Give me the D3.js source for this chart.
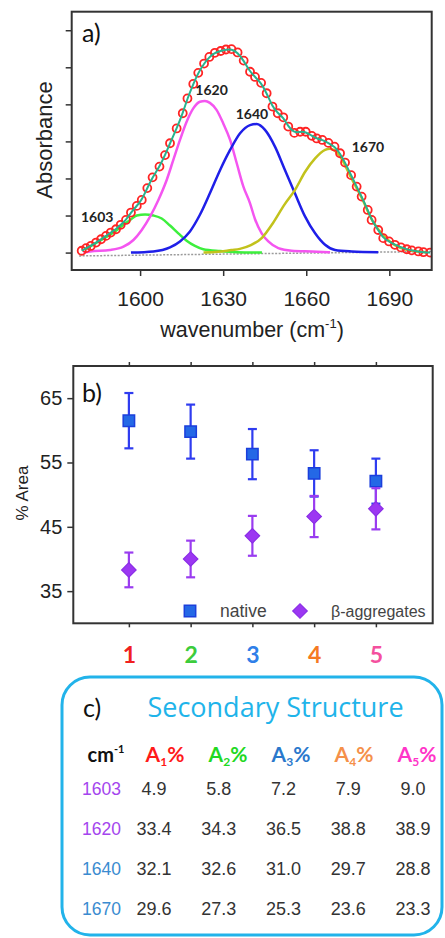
<!DOCTYPE html>
<html>
<head>
<meta charset="utf-8">
<script src="https://cdn.jsdelivr.net/npm/d3@7"></script>
<style>
  body { margin: 0; background: #fff; }
  svg { display: block; }
  text { font-family: "Liberation Sans", Arial, sans-serif; }
</style>
</head>
<body>
<div id="chart-container"></div>
<script>
// ---- panel a: measured spectrum (red circles) ----
const specWn = [1578.9, 1580.5, 1582.2, 1584.1, 1585.9, 1587.7, 1589.4, 1591.3, 1593.0, 1594.9,
  1596.7, 1598.8, 1600.6, 1602.6, 1604.5, 1607.0, 1609.0, 1610.8, 1613.2, 1615.4,
  1617.1, 1619.2, 1621.0, 1623.1, 1625.0, 1627.0, 1629.1, 1631.0, 1633.0, 1635.2,
  1637.4, 1639.7, 1641.5, 1643.7, 1645.7, 1647.8, 1649.7, 1651.7, 1653.5, 1655.7,
  1657.8, 1659.8, 1662.0, 1663.8, 1665.8, 1668.0, 1670.2, 1672.2, 1674.0, 1676.2,
  1678.2, 1680.0, 1682.2, 1683.6, 1686.0, 1687.8, 1689.9, 1692.0, 1694.2, 1696.3,
  1698.1, 1700.5, 1702.3, 1704.7];
const specAbs = [0.005, 0.012, 0.018, 0.027, 0.036, 0.045, 0.054, 0.063, 0.075, 0.088,
  0.108, 0.126, 0.142, 0.174, 0.203, 0.232, 0.263, 0.295, 0.335, 0.376,
  0.416, 0.455, 0.485, 0.510, 0.528, 0.539, 0.544, 0.548, 0.549, 0.540,
  0.518, 0.488, 0.474, 0.458, 0.430, 0.394, 0.376, 0.365, 0.340, 0.323,
  0.326, 0.326, 0.315, 0.308, 0.304, 0.296, 0.286, 0.268, 0.243, 0.209,
  0.178, 0.151, 0.115, 0.088, 0.061, 0.039, 0.030, 0.021, 0.014, 0.009,
  0.006, 0.003, 0.001, 0.000];

// fitted bands
const band1603Wn = [1580, 1585, 1590, 1594, 1596.4, 1598.8, 1601.8, 1604.8, 1607.8, 1610.8, 1613.8, 1616.8, 1619.8, 1622.8, 1628.9, 1634.9, 1644];
const band1603Abs = [0.008, 0.030, 0.052, 0.075, 0.088, 0.100, 0.103, 0.100, 0.092, 0.073, 0.052, 0.032, 0.018, 0.009, 0.004, 0.001, 0];
const band1620Wn = [1579.5, 1581.9, 1589.1, 1594, 1597.6, 1600.6, 1603.6, 1606.6, 1609.6, 1612, 1614.4, 1616.8, 1619.2, 1621.6, 1623.4,
  1625.2, 1627.6, 1630, 1632.5, 1634.9, 1637.3, 1639.7, 1641.5, 1643.9, 1646.3, 1649.9, 1654.7, 1662, 1668.6];
const band1620Abs = [0, 0.003, 0.007, 0.016, 0.034, 0.061, 0.097, 0.142, 0.196, 0.250, 0.304, 0.353, 0.389, 0.407, 0.409,
  0.404, 0.385, 0.349, 0.304, 0.241, 0.178, 0.133, 0.090, 0.052, 0.030, 0.012, 0.005, 0.003, 0.001];
const band1640Wn = [1596.7, 1604.8, 1610.8, 1614.4, 1618, 1621.6, 1625.2, 1628.9, 1632.5, 1636.1, 1639.7, 1642.1,
  1645.1, 1648.7, 1652.3, 1655.9, 1659.6, 1663.2, 1666.8, 1670.4, 1676.4, 1686];
const band1640Abs = [0, 0.003, 0.014, 0.030, 0.057, 0.102, 0.160, 0.223, 0.277, 0.322, 0.344, 0.347,
  0.331, 0.286, 0.223, 0.160, 0.097, 0.052, 0.021, 0.007, 0.003, 0.001];
const band1670Wn = [1622.9, 1628, 1633, 1636, 1640, 1644, 1648, 1652, 1656, 1659.6, 1663.2, 1666.8, 1668.6,
  1672, 1676, 1680, 1684, 1688, 1692, 1696, 1700, 1704];
const band1670Abs = [0, 0.002, 0.007, 0.010, 0.020, 0.040, 0.080, 0.128, 0.170, 0.218, 0.254, 0.277, 0.280,
  0.262, 0.205, 0.148, 0.085, 0.045, 0.020, 0.008, 0.003, 0.001];
const baseWn = [1578, 1705.3];
const baseAbs = [-0.009, 0.003];
const bandLabels = ["1603", "1620", "1640", "1670"];
const bandLabelAt = [[1584.5, 0.083], [1625.8, 0.425], [1640.4, 0.36], [1682.3, 0.271]];
const wnTicks = [1600, 1630, 1660, 1690];

// ---- panel b: % area per sample ----
const samples = [1, 2, 3, 4, 5];
const nativeMean = [61.5, 59.8, 56.3, 53.3, 52.1];
const nativeErr = [4.3, 4.2, 3.9, 3.6, 3.5];
const aggMean = [38.3, 40.0, 43.6, 46.6, 47.8];
const aggErr = [2.7, 2.85, 3.1, 3.2, 3.2];
const areaTicks = [35, 45, 55, 65];

// ---- panel c: secondary structure table ----
const tableRows = ["1603", "1620", "1640", "1670"];
const tableCols = ["1", "2", "3", "4", "5"];
const tableVals = [
  [4.9, 5.8, 7.2, 7.9, 9.0],
  [33.4, 34.3, 36.5, 38.8, 38.9],
  [32.1, 32.6, 31.0, 29.7, 28.8],
  [29.6, 27.3, 25.3, 23.6, 23.3]
];

const sampleColors = ["#f02020", "#3ccc3c", "#2f7fe8", "#f57a22", "#f4509e"];
const headColors = ["#ff1a1a", "#22d822", "#2a78cc", "#f5904a", "#ff35c8"];
const rowColors = ["#a445ee", "#a445ee", "#3a8bd0", "#3a8bd0"];
const bandColors = ["#3def3d", "#f455f0", "#1f1fe8", "#c2c21c"];

const svg = d3.select("#chart-container")
  .append("svg")
  .attr("width", 445)
  .attr("height", 938);

// ================= panel a =================
const xA = d3.scaleLinear().domain([1575.3, 1705.3]).range([71.7, 431.7]);
const yA = d3.scaleLinear().domain([-0.047, 0.65]).range([270, 11.7]);
const lineA = d3.line().x(d => xA(d[0])).y(d => yA(d[1]));

const gA = svg.append("g");

gA.append("clipPath").attr("id", "clip-a")
  .append("rect")
  .attr("x", 71.7).attr("y", 11.7)
  .attr("width", 360).attr("height", 258.3);

const plotA = gA.append("g").attr("clip-path", "url(#clip-a)");

plotA.append("path")
  .attr("d", lineA(d3.zip(baseWn, baseAbs)))
  .attr("fill", "none")
  .attr("stroke", "#9a9a9a")
  .attr("stroke-width", 1.5)
  .attr("stroke-dasharray", "2,1.5");

const bands = [
  d3.zip(band1603Wn, band1603Abs),
  d3.zip(band1620Wn, band1620Abs),
  d3.zip(band1640Wn, band1640Abs),
  d3.zip(band1670Wn, band1670Abs)
];
bands.forEach((b, i) => {
  plotA.append("path")
    .attr("d", lineA.curve(d3.curveMonotoneX)(b))
    .attr("fill", "none")
    .attr("stroke", bandColors[i])
    .attr("stroke-width", 2.5);
});

const spec = d3.zip(specWn, specAbs);
plotA.selectAll("circle.pt")
  .data(spec)
  .join("circle")
  .attr("class", "pt")
  .attr("cx", d => xA(d[0]))
  .attr("cy", d => yA(d[1]))
  .attr("r", 4)
  .attr("fill", "none")
  .attr("stroke", "#ff2424")
  .attr("stroke-width", 1.8);

plotA.append("path")
  .attr("d", lineA.curve(d3.curveBasis)(spec))
  .attr("fill", "none")
  .attr("stroke", "#27b38e")
  .attr("stroke-width", 2);

gA.selectAll("text.band")
  .data(bandLabels)
  .join("text")
  .attr("class", "band")
  .attr("x", (d, i) => xA(bandLabelAt[i][0]))
  .attr("y", (d, i) => yA(bandLabelAt[i][1]))
  .attr("text-anchor", "middle")
  .style("font-family", "Lato, sans-serif")
  .attr("font-weight", 700)
  .attr("font-size", 14)
  .attr("fill", "#222")
  .text(d => d);

gA.append("g")
  .attr("transform", "translate(71.7,0)")
  .call(d3.axisLeft(yA).tickValues(d3.range(0, 0.65, 0.1)).tickSize(6).tickFormat(""))
  .call(g => g.select(".domain").remove())
  .call(g => g.selectAll("line").attr("stroke", "#333").attr("stroke-width", 1.5));

gA.append("g")
  .attr("transform", "translate(0,270)")
  .call(d3.axisBottom(xA).tickValues(wnTicks).tickSize(6).tickPadding(15).tickFormat(d3.format("d")))
  .call(g => g.select(".domain").remove())
  .call(g => g.attr("font-family", null).attr("font-size", null))
  .call(g => g.selectAll("line").attr("stroke", "#333").attr("stroke-width", 1.5))
  .call(g => g.selectAll("text").attr("font-size", 21).attr("fill", "#222"));

gA.append("rect")
  .attr("x", 71.7).attr("y", 11.7)
  .attr("width", 360).attr("height", 258.3)
  .attr("fill", "none")
  .attr("stroke", "#333")
  .attr("stroke-width", 2);

gA.append("text")
  .attr("x", 82).attr("y", 42)
  .style("font-family", "Lato, sans-serif")
  .attr("font-size", 25)
  .attr("fill", "#111")
  .text("a)");

gA.append("text")
  .attr("transform", "translate(52,140) rotate(-90)")
  .attr("text-anchor", "middle")
  .attr("font-size", 22)
  .attr("fill", "#222")
  .text("Absorbance");

const wnTitle = gA.append("text")
  .attr("x", 252).attr("y", 336.5)
  .attr("text-anchor", "middle")
  .attr("font-size", 21.5)
  .attr("fill", "#222");
wnTitle.append("tspan").text("wavenumber (cm");
wnTitle.append("tspan").attr("font-size", 13).attr("dy", -9).text("-1");
wnTitle.append("tspan").attr("dy", 9).text(")");

// ================= panel b =================
const xB = d3.scaleLinear().domain([0.1, 5.92]).range([73.3, 432.7]);
const yB = d3.scaleLinear().domain([30, 70]).range([623.3, 366]);
const gB = svg.append("g");

gB.append("g")
  .attr("transform", "translate(73.3,0)")
  .call(d3.axisLeft(yB).tickValues(areaTicks).tickSize(6).tickPadding(5))
  .call(g => g.select(".domain").remove())
  .call(g => g.attr("font-family", null).attr("font-size", null))
  .call(g => g.selectAll("line").attr("stroke", "#333").attr("stroke-width", 1.5))
  .call(g => g.selectAll("text").attr("font-size", 20).attr("fill", "#222"));

gB.append("g")
  .attr("transform", "translate(0,366)")
  .call(d3.axisTop(xB).tickValues(samples).tickSize(4).tickFormat(""))
  .call(g => g.select(".domain").remove())
  .call(g => g.selectAll("line").attr("stroke", "#333").attr("stroke-width", 1.5));

gB.append("g")
  .attr("transform", "translate(0,623.3)")
  .call(d3.axisBottom(xB).tickValues(samples).tickSize(4).tickPadding(19).tickFormat(d3.format("d")))
  .call(g => g.select(".domain").remove())
  .call(g => g.attr("font-family", null).attr("font-size", null))
  .call(g => g.selectAll("line").attr("stroke", "#333").attr("stroke-width", 1.5))
  .call(g => g.selectAll("text")
    .style("font-family", "Lato, sans-serif")
    .attr("font-size", 23)
    .attr("font-weight", 700)
    .attr("fill", (d, i) => sampleColors[i]));

function errorBars(means, errs, color) {
  const g = gB.append("g").attr("stroke", color).attr("stroke-width", 2.2);
  samples.forEach((s, i) => {
    const x = xB(s);
    g.append("line").attr("x1", x).attr("x2", x)
      .attr("y1", yB(means[i] + errs[i])).attr("y2", yB(means[i] - errs[i]));
    [means[i] + errs[i], means[i] - errs[i]].forEach(v => {
      g.append("line").attr("x1", x - 4.5).attr("x2", x + 4.5)
        .attr("y1", yB(v)).attr("y2", yB(v));
    });
  });
}

const square = d3.symbol().type(d3.symbolSquare).size(130);
const diamond = d3.symbol().type(d3.symbolSquare).size(105);

errorBars(nativeMean, nativeErr, "#2f3cf0");
gB.selectAll("path.native")
  .data(samples)
  .join("path")
  .attr("class", "native")
  .attr("d", square)
  .attr("transform", (d, i) => `translate(${xB(d)},${yB(nativeMean[i])})`)
  .attr("fill", "#2468e6")
  .attr("stroke", "#1b3fdc")
  .attr("stroke-width", 1.5);

errorBars(aggMean, aggErr, "#9a3cf0");
gB.selectAll("path.agg")
  .data(samples)
  .join("path")
  .attr("class", "agg")
  .attr("d", diamond)
  .attr("transform", (d, i) => `translate(${xB(d)},${yB(aggMean[i])}) rotate(45)`)
  .attr("fill", "#9c37f2")
  .attr("stroke", "#8a2ee6")
  .attr("stroke-width", 1.2);

gB.append("rect")
  .attr("x", 73.3).attr("y", 366)
  .attr("width", 359.4).attr("height", 257.3)
  .attr("fill", "none")
  .attr("stroke", "#333")
  .attr("stroke-width", 2);

gB.append("text")
  .attr("x", 82).attr("y", 402)
  .style("font-family", "Lato, sans-serif")
  .attr("font-size", 25)
  .attr("fill", "#111")
  .text("b)");

gB.append("text")
  .attr("transform", "translate(28,493) rotate(-90)")
  .attr("text-anchor", "middle")
  .attr("font-size", 17)
  .attr("fill", "#222")
  .text("% Area");

// legend
gB.append("path").attr("d", square)
  .attr("transform", "translate(190,611)")
  .attr("fill", "#2468e6").attr("stroke", "#1b3fdc").attr("stroke-width", 1.5);
gB.append("text").attr("x", 220).attr("y", 617)
  .attr("font-size", 17.5).attr("fill", "#444").text("native");
gB.append("path").attr("d", diamond)
  .attr("transform", "translate(300,611) rotate(45)")
  .attr("fill", "#9c37f2").attr("stroke", "#8a2ee6").attr("stroke-width", 1.2);
gB.append("text").attr("x", 331).attr("y", 617)
  .attr("font-size", 16).attr("fill", "#444").text("β-aggregates");

// ================= panel c =================
const gC = svg.append("g");
gC.append("rect")
  .attr("x", 62).attr("y", 677)
  .attr("width", 380).attr("height", 258)
  .attr("rx", 28).attr("ry", 28)
  .attr("fill", "#fff")
  .attr("stroke", "#22b3ea")
  .attr("stroke-width", 3);

gC.append("text")
  .attr("x", 83).attr("y", 717)
  .style("font-family", "Lato, sans-serif")
  .attr("font-size", 25)
  .attr("fill", "#111")
  .text("c)");

gC.append("text")
  .attr("x", 275.5).attr("y", 717)
  .attr("text-anchor", "middle")
  .style("font-family", "'Open Sans', sans-serif")
  .attr("font-size", 27)
  .attr("fill", "#1fb4ea")
  .text("Secondary Structure");

const colX = d3.scalePoint().domain(tableCols).range([154, 413]);
const headX = d3.scalePoint().domain(tableCols).range([165, 417]);
const rowY = d3.scalePoint().domain(tableRows).range([795, 915]);

const cm = gC.append("text")
  .attr("x", 106).attr("y", 762)
  .attr("text-anchor", "middle")
  .style("font-family", "Lato, sans-serif")
  .attr("font-weight", 700)
  .attr("font-size", 20)
  .attr("fill", "#111");
cm.append("tspan").text("cm");
cm.append("tspan").attr("font-size", 11).attr("dy", -9).text("-1");

gC.selectAll("text.head")
  .data(tableCols)
  .join("text")
  .attr("class", "head")
  .attr("x", d => headX(d))
  .attr("y", 762)
  .attr("text-anchor", "middle")
  .style("font-family", "Lato, sans-serif")
  .attr("font-weight", 700)
  .attr("font-size", 21)
  .attr("fill", (d, i) => headColors[i])
  .each(function(d) {
    const t = d3.select(this);
    t.append("tspan").text("A");
    t.append("tspan").attr("font-size", 12).attr("dy", 4).text(d);
    t.append("tspan").attr("dy", -4).text("%");
  });

gC.selectAll("text.row")
  .data(tableRows)
  .join("text")
  .attr("class", "row")
  .attr("x", 82)
  .attr("y", d => rowY(d))
  .attr("font-size", 17.5)
  .attr("fill", (d, i) => rowColors[i])
  .text(d => d);

tableRows.forEach((r, i) => {
  gC.selectAll(`text.v${i}`)
    .data(tableVals[i])
    .join("text")
    .attr("class", `v${i}`)
    .attr("x", (d, j) => colX(tableCols[j]))
    .attr("y", rowY(r))
    .attr("text-anchor", "middle")
    .attr("font-size", 18)
    .attr("fill", "#333")
    .text(d => d3.format(".1f")(d));
});
</script>
</body>
</html>
